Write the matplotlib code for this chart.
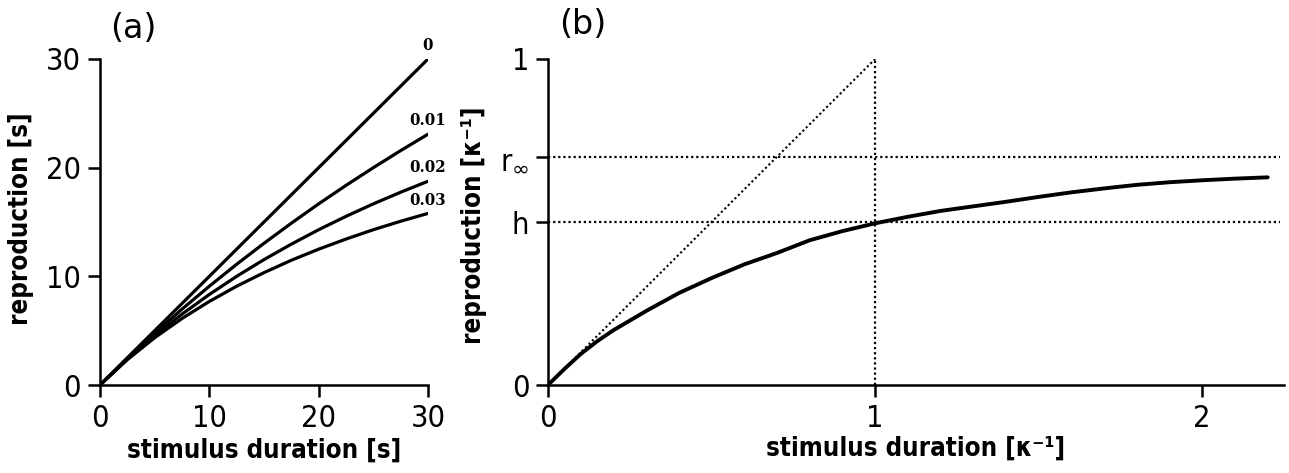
import matplotlib
matplotlib.use("Agg")
import matplotlib.pyplot as plt

# ---------------- data ----------------
# panel (a): stimulus duration [s] vs reproduction [s] for several leak values
dur_a = [0, 2.5, 5, 7.5, 10, 12.5, 15, 17.5, 20, 22.5, 25, 27.5, 30]
rep_000 = [0, 2.5, 5, 7.5, 10, 12.5, 15, 17.5, 20, 22.5, 25, 27.5, 30]
rep_001 = [0, 2.44, 4.76, 6.98, 9.09, 11.11, 13.04, 14.89, 16.67, 18.37, 20.0, 21.57, 23.08]
rep_002 = [0, 2.38, 4.55, 6.52, 8.33, 10.0, 11.54, 12.96, 14.29, 15.52, 16.67, 17.74, 18.75]
rep_003 = [0, 2.33, 4.35, 6.12, 7.69, 9.09, 10.34, 11.48, 12.5, 13.43, 14.29, 15.07, 15.79]
series_a = [rep_000, rep_001, rep_002, rep_003]
labels_a = ["0", "0.01", "0.02", "0.03"]
ticks_a = [0, 10, 20, 30]

# panel (b): normalised units
dur_b = [0, 0.05, 0.1, 0.15, 0.2, 0.3, 0.4, 0.5, 0.6, 0.7, 0.8, 0.9, 1.0,
         1.1, 1.2, 1.3, 1.4, 1.5, 1.6, 1.7, 1.8, 1.9, 2.0, 2.1, 2.2]
rep_b = [0, 0.049, 0.095, 0.134, 0.168, 0.227, 0.282, 0.328, 0.370, 0.405, 0.444, 0.472, 0.496,
         0.516, 0.534, 0.548, 0.562, 0.577, 0.591, 0.603, 0.614, 0.622, 0.628, 0.633, 0.637]
diag_x = [0, 1]
diag_y = [0, 1]
h_val = 0.5
rinf_val = 0.7
xticks_b = [0, 1, 2]
xticklabels_b = ["0", "1", "2"]
yticks_b = [0, h_val, rinf_val, 1]
yticklabels_b = ["0", "h", r"r$_{\infty}$", "1"]

# ---------------- style ----------------
W, H = 1289, 473
fig = plt.figure(figsize=(W / 100, H / 100), dpi=100)
plt.rcParams["mathtext.fontset"] = "dejavusans"

TICKFONT = dict(family="DejaVu Sans", stretch="condensed", size=22)
LABELFONT = dict(family="DejaVu Sans", stretch="condensed", weight="bold", size=18.5)
DOT = (0, (1, 1.3))


def style_axes(ax):
    for s in ["top", "right"]:
        ax.spines[s].set_visible(False)
    for s in ["left", "bottom"]:
        ax.spines[s].set_linewidth(1.8)
    ax.tick_params(direction="out", length=8.5, width=1.8)
    ax.tick_params(axis="x", pad=5.5)
    ax.tick_params(axis="y", pad=5)
    for lab in ax.get_xticklabels() + ax.get_yticklabels():
        lab.set_fontfamily(TICKFONT["family"])
        lab.set_fontstretch(TICKFONT["stretch"])
        lab.set_fontsize(TICKFONT["size"])


# ---------------- panel (a) ----------------
axa = fig.add_axes([100 / W, (H - 385) / H, 328 / W, 326 / H])
for ys, lab in zip(series_a, labels_a):
    axa.plot(dur_a, ys, color="black", lw=2.3, solid_capstyle="round")
    axa.annotate(lab, xy=(dur_a[-1], ys[-1]), xytext=(0, 3.5), textcoords="offset points",
                 ha="center", va="bottom", fontsize=12, fontweight="bold",
                 family="DejaVu Serif", stretch="condensed")
axa.set_xlim(0, 30)
axa.set_ylim(0, 30)
axa.set_xticks(ticks_a)
axa.set_yticks(ticks_a)
style_axes(axa)
axa.set_xlabel("stimulus duration [s]", **LABELFONT)
axa.set_ylabel("reproduction [s]", **LABELFONT)
axa.xaxis.set_label_coords(0.5, -0.16)
axa.yaxis.set_label_coords(-0.2, 0.51)
fig.text(133 / W, 1 - 28 / H, "(a)", ha="center", va="center", fontsize=24,
         family="DejaVu Sans")

# ---------------- panel (b) ----------------
axb = fig.add_axes([548 / W, (H - 385) / H, 736 / W, 326 / H])
axb.plot(dur_b, rep_b, color="black", lw=2.8, solid_capstyle="round")
axb.plot(diag_x, diag_y, color="black", lw=1.5, ls=DOT)
axb.plot([diag_x[1], diag_x[1]], [0, diag_y[1]], color="black", lw=1.6, ls=DOT)
axb.axhline(h_val, xmax=0.995, color="black", lw=1.6, ls=DOT)
axb.axhline(rinf_val, xmax=0.995, color="black", lw=1.6, ls=DOT)
axb.set_xlim(0, 2.25)
axb.set_ylim(0, 1)
axb.set_xticks(xticks_b)
axb.set_xticklabels(xticklabels_b)
axb.set_yticks(yticks_b)
axb.set_yticklabels(yticklabels_b)
style_axes(axb)
axb.set_xlabel("stimulus duration [κ⁻¹]", **LABELFONT)
axb.set_ylabel("reproduction [κ⁻¹]", **LABELFONT)
axb.xaxis.set_label_coords(0.5, -0.155)
axb.yaxis.set_label_coords(-0.083, 0.49)
fig.text(583 / W, 1 - 25 / H, "(b)", ha="center", va="center", fontsize=24,
         family="DejaVu Sans")

fig.savefig("out.png", dpi=100)
